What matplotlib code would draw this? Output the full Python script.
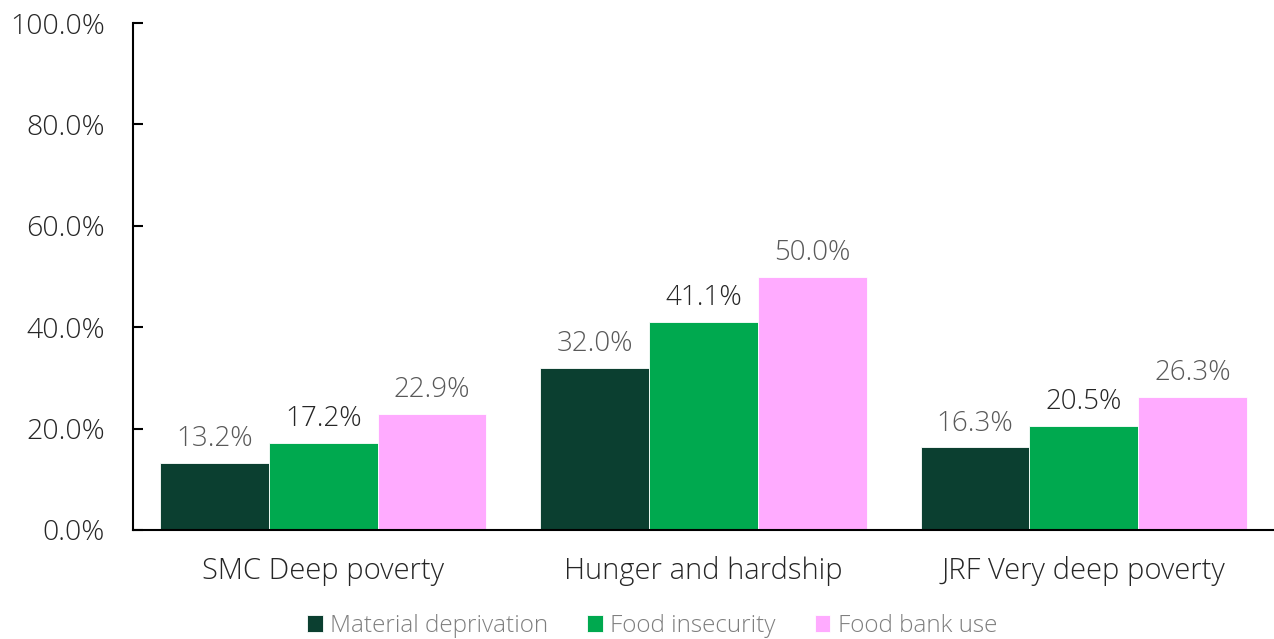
import matplotlib.pyplot as plt
import numpy as np

categories = ["SMC Deep poverty", "Hunger and hardship", "JRF Very deep poverty"]
series_names = ["Material deprivation", "Food insecurity", "Food bank use"]
material = [13.2, 32.0, 16.3]
food_insecurity = [17.2, 41.1, 20.5]
food_bank = [22.9, 50.0, 26.3]
yticks = [0, 20, 40, 60, 80, 100]

colors = ["#0B3F30", "#00A94F", "#FFABFF"]
label_colors = ["#595959", "#262626", "#595959"]

plt.rcParams['font.family'] = ['Open Sans', 'DejaVu Sans']

fig = plt.figure(figsize=(12.74, 6.39), dpi=100)
ax = fig.add_axes([133 / 1274, 1 - 530 / 639, 1 - 133 / 1274, (530 - 23) / 639])

x = np.arange(len(categories))
w = 0.286
for i, vals in enumerate([material, food_insecurity, food_bank]):
    bars = ax.bar(x + (i - 1) * w, vals, w, color=colors[i], label=series_names[i],
                  edgecolor="white", linewidth=0.6)
    for b, v in zip(bars, vals):
        ax.annotate(f"{v:.1f}%", (b.get_x() + b.get_width() / 2, v),
                    xytext=(0, 7), textcoords="offset points",
                    ha="center", va="bottom", fontsize=20, color=label_colors[i],
                    fontweight="light")

ax.set_ylim(0, 100)
ax.set_xlim(-0.5, 2.5)
ax.set_yticks(yticks)
ax.set_yticklabels([f"{t:.1f}%" for t in yticks], fontsize=20.5, color="#262626", fontweight="light")
ax.set_xticks(x)
ax.set_xticklabels(categories, fontsize=21, color="#262626", fontweight="light")
ax.tick_params(axis="x", length=0, pad=19)
ax.tick_params(axis="y", direction="in", length=7, width=1.5, pad=20)
for s in ["top", "right"]:
    ax.spines[s].set_visible(False)
ax.spines["left"].set_linewidth(1.5)
ax.spines["bottom"].set_linewidth(1.5)

handles, labels = ax.get_legend_handles_labels()
leg = fig.legend(handles, labels, loc="center", bbox_to_anchor=(652 / 1274, 1 - 626 / 639),
                 ncol=3, frameon=False, fontsize=17.5, handlelength=0.65, handleheight=0.65,
                 handletextpad=0.3, columnspacing=1.6, borderpad=0)
for t in leg.get_texts():
    t.set_color("#7F7F7F")
    t.set_fontweight("light")

fig.savefig("out.png", dpi=100)
